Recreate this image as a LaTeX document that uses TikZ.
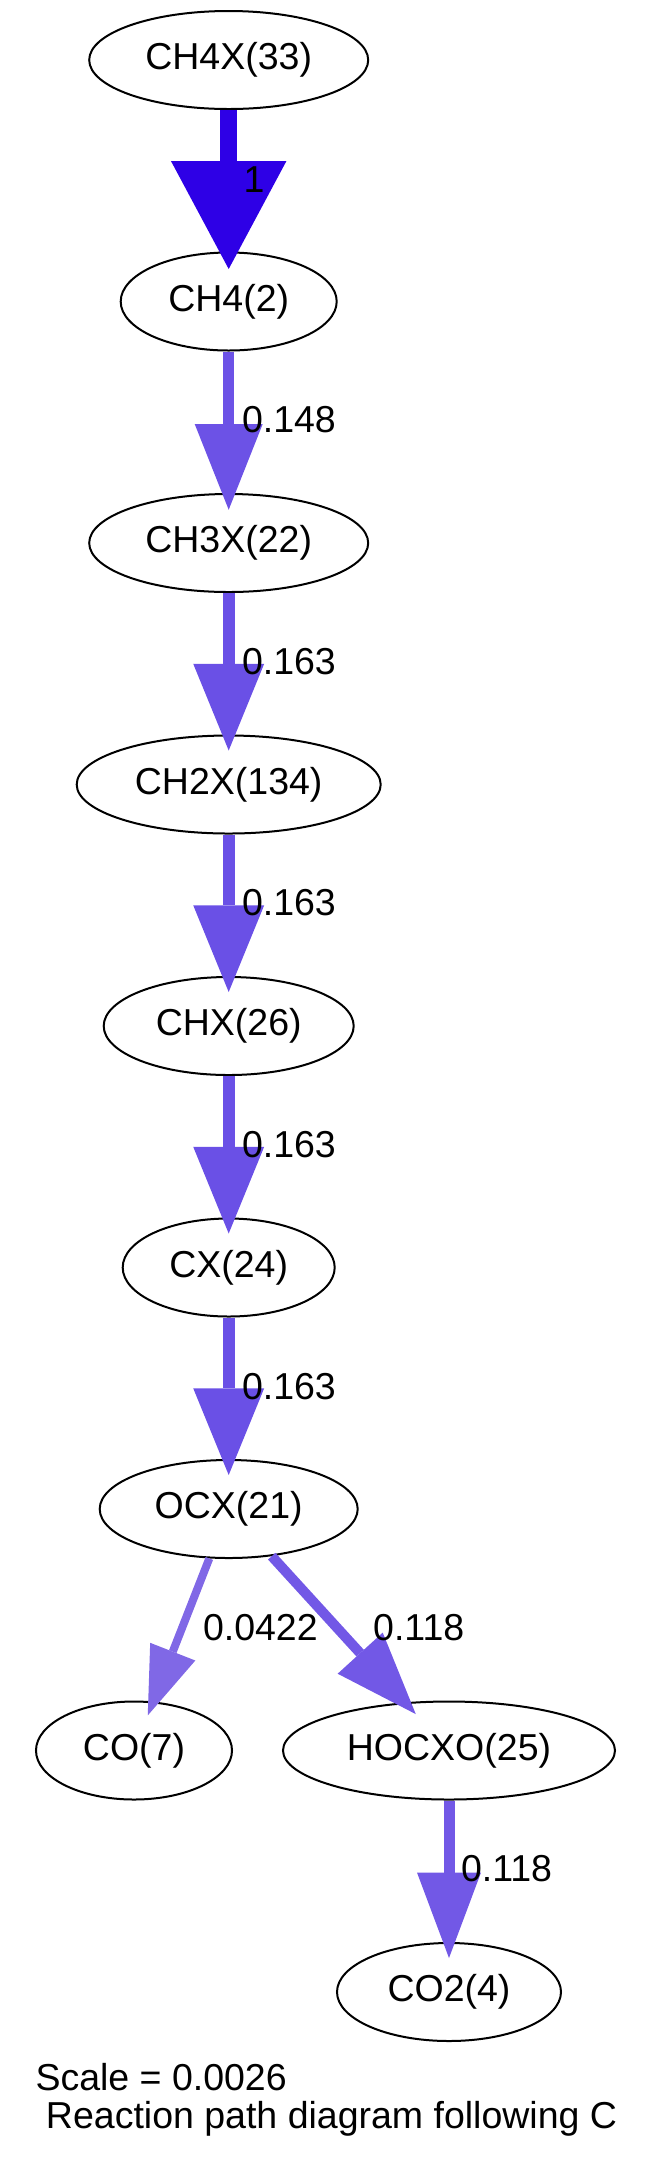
\documentclass[tikz,border=0pt]{standalone}
\usepackage{fontspec}
\setmainfont{Liberation Sans}
\usetikzlibrary{shapes.geometric,arrows.meta}
\definecolor{cA}{RGB}{46,0,230}
\definecolor{cB}{RGB}{108,82,230}
\definecolor{cC}{RGB}{106,80,230}
\definecolor{cD}{RGB}{128,104,230}
\definecolor{cE}{RGB}{114,88,230}
\begin{document}
\begin{tikzpicture}[x=0.4pt,y=-0.4pt,
  species/.style={ellipse,draw=black,line width=0.8pt,inner sep=0pt,minimum height=39.2pt,font=\fontsize{15pt}{18pt}\selectfont},
  fluxlabel/.style={font=\fontsize{15pt}{18pt}\selectfont,anchor=base west,inner sep=0pt},
  rxn/.style n args={5}{draw=#1,line width=#2,-{Triangle[length=#3,width=#4,line width=0pt]},shorten >=-#5}
]
\useasboundingbox (0,0) rectangle (653,2161);
% species
\node[species,minimum width=111.6pt] (ch4x) at (228.7,60) {CH4X(33)};
\node[species,minimum width=86.4pt] (ch4) at (228.7,301.5) {CH4(2)};
\node[species,minimum width=111.6pt] (ch3x) at (228.7,543) {CH3X(22)};
\node[species,minimum width=121.6pt] (ch2x) at (228.7,784.5) {CH2X(134)};
\node[species,minimum width=100pt] (chx) at (228.7,1026) {CHX(26)};
\node[species,minimum width=84.8pt] (cx) at (228.7,1267.5) {CX(24)};
\node[species,minimum width=103.2pt] (ocx) at (228.7,1509) {OCX(21)};
\node[species,minimum width=78.4pt] (co) at (134,1750.5) {CO(7)};
\node[species,minimum width=132.8pt] (hocxo) at (449,1750.5) {HOCXO(25)};
\node[species,minimum width=89.6pt] (co2) at (449,1992) {CO2(4)};
% reaction fluxes
\draw[rxn={cA}{6.8pt}{43.2pt}{46.2pt}{7pt}] (ch4x) -- (ch4);
\draw[rxn={cB}{4.5pt}{34.3pt}{27.2pt}{6.7pt}] (ch4) -- (ch3x);
\draw[rxn={cC}{4.7pt}{34.7pt}{28.4pt}{6.4pt}] (ch3x) -- (ch2x);
\draw[rxn={cC}{4.7pt}{34.7pt}{28.4pt}{6.4pt}] (ch2x) -- (chx);
\draw[rxn={cC}{4.7pt}{34.7pt}{28.4pt}{6.4pt}] (chx) -- (cx);
\draw[rxn={cC}{4.7pt}{34.7pt}{28.4pt}{6.4pt}] (cx) -- (ocx);
\draw[rxn={cD}{3.2pt}{27.4pt}{19.4pt}{6pt}] (ocx) -- (co);
\draw[rxn={cE}{4pt}{33pt}{24.4pt}{6.4pt}] (ocx) -- (hocxo);
\draw[rxn={cE}{4.4pt}{34.2pt}{25.6pt}{6.4pt}] (hocxo) -- (co2);
% flux labels
\node[fluxlabel] (l1) at (243,192) {1};
\node[fluxlabel] (l2) at (241.5,432.7) {0.148};
\node[fluxlabel] (l3) at (241.5,674) {0.163};
\node[fluxlabel] (l4) at (241.5,915.5) {0.163};
\node[fluxlabel] (l5) at (241.5,1157) {0.163};
\node[fluxlabel] (l6) at (241.5,1399) {0.163};
\node[fluxlabel] (l7) at (202.5,1640) {0.0422};
\node[fluxlabel] (l8) at (372.7,1640) {0.118};
\node[fluxlabel] (l9) at (460.5,1881.5) {0.118};
% graph label
\node[fluxlabel] (scale) at (35,2090) {Scale = 0.0026};
\node[fluxlabel] (title) at (45.5,2128) {Reaction path diagram following C};
\end{tikzpicture}
\end{document}
